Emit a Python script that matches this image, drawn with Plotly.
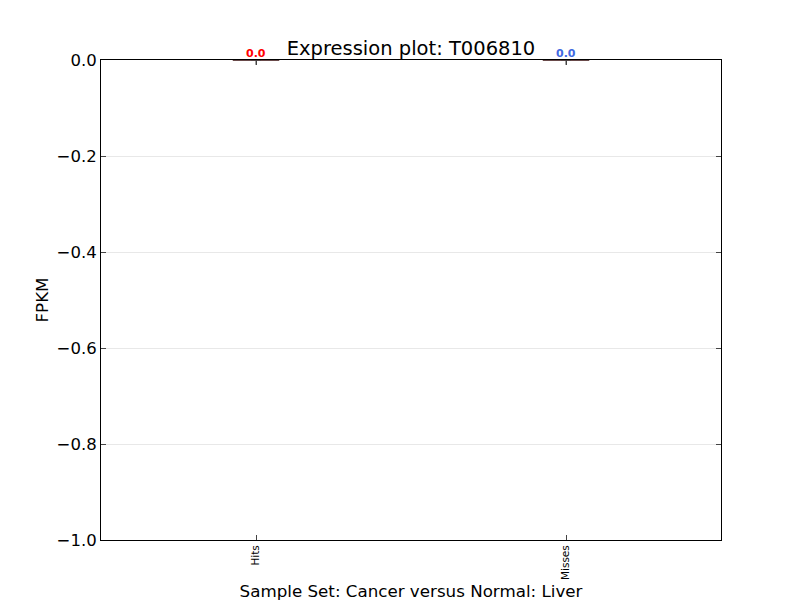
import plotly.graph_objects as go

categories = ["Hits", "Misses"]
values = {"Hits": [0.0, 0.0, 0.0], "Misses": [0.0, 0.0, 0.0]}
labels = ["0.0", "0.0"]
label_colors = ["red", "royalblue"]
y_ticks = [-1.0, -0.8, -0.6, -0.4, -0.2, 0.0]

fig = go.Figure()

for i, cat in enumerate(categories):
    fig.add_trace(
        go.Box(
            x=[i] * len(values[cat]),
            y=values[cat],
            name=cat,
            width=0.15,
            boxpoints=False,
            fillcolor="rgba(0,0,0,0)",
            line=dict(color="#3a1010", width=1.5),
            showlegend=False,
        )
    )
    # flier / mean marker (half clipped by the top of the axes)
    fig.add_trace(
        go.Scatter(
            x=[i],
            y=[sum(values[cat]) / len(values[cat])],
            mode="markers",
            marker=dict(symbol="cross-thin", size=7, line=dict(color="#444444", width=1)),
            showlegend=False,
            cliponaxis=True,
        )
    )
    fig.add_annotation(
        x=i,
        y=max(values[cat]),
        text="<b>" + labels[i] + "</b>",
        showarrow=False,
        yanchor="bottom",
        yshift=-2,
        font=dict(color=label_colors[i], size=11, family="DejaVu Sans"),
    )

fig.update_layout(
    width=800,
    height=600,
    margin=dict(l=93, r=87, t=52, b=68),
    plot_bgcolor="white",
    paper_bgcolor="white",
    font=dict(family="DejaVu Sans", color="black"),
    title=dict(
        text="Expression plot: T006810",
        x=(410 - 7) / 800,
        xanchor="center",
        y=1 - 40 / 600,
        yanchor="middle",
        font=dict(size=19.5),
    ),
)
fig.update_xaxes(
    range=[-0.5, 1.5],
    tickmode="array",
    tickvals=list(range(len(categories))),
    ticktext=categories,
    tickangle=-90,
    tickfont=dict(size=10.5),
    ticks="inside",
    ticklen=5,
    mirror="allticks",
    showline=True,
    linecolor="black",
    linewidth=1,
    showgrid=False,
    zeroline=False,
    automargin=False,
    title=dict(text="Sample Set: Cancer versus Normal: Liver", font=dict(size=16.7), standoff=6),
)
fig.update_yaxes(
    range=[-1.0, 0.0],
    tickmode="array",
    tickvals=y_ticks,
    ticktext=["\u22121.0", "\u22120.8", "\u22120.6", "\u22120.4", "\u22120.2", "0.0"],
    tickfont=dict(size=16.5),
    ticks="inside",
    ticklen=5,
    mirror="allticks",
    showline=True,
    linecolor="black",
    linewidth=1,
    showgrid=True,
    gridcolor="#e8e8e8",
    gridwidth=1,
    zeroline=False,
    automargin=False,
    title=dict(text="FPKM", font=dict(size=16.7), standoff=3),
)

fig.write_html("out.html")
